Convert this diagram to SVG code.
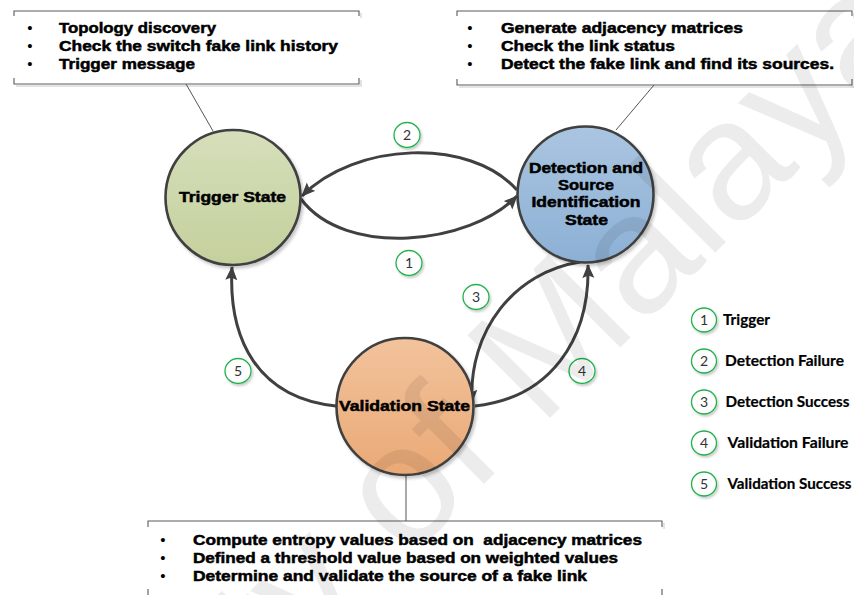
<svg xmlns="http://www.w3.org/2000/svg" width="854" height="595" viewBox="0 0 854 595">
  <style>
    .bx { fill: none; stroke: #5a5a5a; stroke-width: 1.1; }
    .bxs { fill: none; stroke: #dcdcdc; stroke-width: 1.6; }
    .lead { stroke: #555; stroke-width: 1; fill: none; }
    .txt { font-family: "Liberation Sans", Arial, sans-serif; font-weight: bold; font-size: 15px; fill: #000; stroke: #000; stroke-width: 0.5; }
    .bul { font-family: "Liberation Sans", Arial, sans-serif; font-size: 15px; fill: #000; text-anchor: middle; }
    .ntxt { font-family: "Liberation Sans", Arial, sans-serif; font-weight: bold; font-size: 14.5px; fill: #000; stroke: #000; stroke-width: 0.5; }
    .state { stroke: #404040; stroke-width: 2.6; }
    .arc { fill: none; stroke: #404040; stroke-width: 3; marker-end: url(#head); }
    .badge { fill: #fff; stroke: #22b24c; stroke-width: 1.3; }
    .num { font-family: Lato, "Open Sans", sans-serif; font-size: 14px; fill: #333; text-anchor: middle; }
    .leg { font-family: Lato, "Open Sans", sans-serif; font-weight: bold; font-size: 15px; fill: #000; stroke: #000; stroke-width: 0.2; }
    .wm { font-family: "Liberation Sans", Arial, sans-serif; font-size: 170px; fill: #000; fill-opacity: 0.075; }
  </style>
  <defs>
    <linearGradient id="gTrig" x1="0" y1="0" x2="0" y2="1">
      <stop offset="0" stop-color="#d6dfbb"/>
      <stop offset="1" stop-color="#c4d09c"/>
    </linearGradient>
    <linearGradient id="gDet" x1="0" y1="0" x2="0" y2="1">
      <stop offset="0" stop-color="#aac5e0"/>
      <stop offset="1" stop-color="#8cb0d5"/>
    </linearGradient>
    <linearGradient id="gVal" x1="0" y1="0" x2="0" y2="1">
      <stop offset="0" stop-color="#f2c39c"/>
      <stop offset="1" stop-color="#eaa976"/>
    </linearGradient>
    <filter id="shadow" x="-20%" y="-20%" width="150%" height="150%">
      <feDropShadow dx="2" dy="2.5" stdDeviation="1.8" flood-color="#000" flood-opacity="0.22"/>
    </filter>
    <filter id="bshadow" x="-30%" y="-30%" width="170%" height="170%">
      <feDropShadow dx="1.5" dy="2" stdDeviation="1" flood-color="#000" flood-opacity="0.2"/>
    </filter>
    <marker id="head" markerUnits="userSpaceOnUse" markerWidth="16" markerHeight="14" refX="13" refY="6" orient="auto">
      <path d="M0,0 L14,6 L0,12 L2.5,6 z" fill="#404040"/>
    </marker>
  </defs>

  <rect width="854" height="595" fill="#fff"/>

  <!-- callout boxes -->
  <g id="note-trigger">
    <path class="bxs" d="M16,86 H361 V80 M361,13 V18"/>
    <path class="bx" d="M14,16 V11 H359 V16 M14,78 V84 H359 V78"/>
    <text class="bul" x="30" y="33">•</text>
    <text class="bul" x="30" y="51">•</text>
    <text class="bul" x="30" y="69">•</text>
    <text class="txt" x="59" y="33" textLength="157" lengthAdjust="spacingAndGlyphs">Topology discovery</text>
    <text class="txt" x="59" y="51" textLength="279" lengthAdjust="spacingAndGlyphs">Check the switch fake link history</text>
    <text class="txt" x="59" y="69" textLength="136" lengthAdjust="spacingAndGlyphs">Trigger message</text>
  </g>

  <g id="note-detection">
    <path class="bxs" d="M459,87 H854 M854,13 V18"/>
    <path class="bx" d="M457,16 V11 H852 V16 M457,79 V85 H852 V79"/>
    <text class="bul" x="470" y="33">•</text>
    <text class="bul" x="470" y="51">•</text>
    <text class="bul" x="470" y="69">•</text>
    <text class="txt" x="501" y="33" textLength="242" lengthAdjust="spacingAndGlyphs">Generate adjacency matrices</text>
    <text class="txt" x="501" y="51" textLength="174" lengthAdjust="spacingAndGlyphs">Check the link status</text>
    <text class="txt" x="501" y="69" textLength="333" lengthAdjust="spacingAndGlyphs">Detect the fake link and find its sources.</text>
  </g>

  <g id="note-validation">
    <path class="bxs" d="M664,523 V529"/>
    <path class="bx" d="M148,527 V521 H662 V527 M148,589 V597 M662,589 V597"/>
    <text class="bul" x="163" y="545">•</text>
    <text class="bul" x="163" y="563">•</text>
    <text class="bul" x="163" y="581">•</text>
    <text class="txt" x="193" y="545" textLength="449" lengthAdjust="spacingAndGlyphs" xml:space="preserve">Compute entropy values based on  adjacency matrices</text>
    <text class="txt" x="193" y="563" textLength="425" lengthAdjust="spacingAndGlyphs">Defined a threshold value based on weighted values</text>
    <text class="txt" x="193" y="581" textLength="394" lengthAdjust="spacingAndGlyphs">Determine and validate the source of a fake link</text>
  </g>

  <!-- connectors: note leaders and state transitions -->
  <g id="connectors">
    <line class="lead" x1="186" y1="84" x2="213" y2="131"/>
    <line class="lead" x1="654" y1="85" x2="616" y2="130"/>
    <line class="lead" x1="406" y1="474" x2="406" y2="521"/>

    <path id="t1" class="arc" d="M301,199 C345,258 470,245 517,196"/>
    <path id="t2" class="arc" d="M517,190 C470,137 355,142 302,196"/>
    <path id="t3" class="arc" d="M580,262 C515,272 468,330 472,403"/>
    <path id="t4" class="arc" d="M475,406 C550,398 590,340 588,265"/>
    <path id="t5" class="arc" d="M336,406 C258,398 228,340 232,267"/>
  </g>

  <!-- states -->
  <g id="trigger-state">
    <circle class="state" cx="233" cy="197.5" r="67.5" fill="url(#gTrig)" filter="url(#shadow)"/>
    <text class="ntxt" x="179" y="202" textLength="107" lengthAdjust="spacingAndGlyphs">Trigger State</text>
  </g>

  <g id="detection-state">
    <circle class="state" cx="585.5" cy="194.5" r="68" fill="url(#gDet)" filter="url(#shadow)"/>
    <text class="ntxt" x="529" y="172.5" textLength="114" lengthAdjust="spacingAndGlyphs">Detection and</text>
    <text class="ntxt" x="558" y="189.5" textLength="56" lengthAdjust="spacingAndGlyphs">Source</text>
    <text class="ntxt" x="531.5" y="207" textLength="109" lengthAdjust="spacingAndGlyphs">Identification</text>
    <text class="ntxt" x="565" y="224.5" textLength="43" lengthAdjust="spacingAndGlyphs">State</text>
  </g>

  <g id="validation-state">
    <circle class="state" cx="405" cy="406.5" r="68.5" fill="url(#gVal)" filter="url(#shadow)"/>
    <text class="ntxt" x="339" y="411" textLength="131" lengthAdjust="spacingAndGlyphs">Validation State</text>
  </g>

  <!-- transition number badges -->
  <g id="badges">
    <g filter="url(#bshadow)">
      <ellipse class="badge" cx="407" cy="135" rx="13" ry="12.5"/>
      <ellipse class="badge" cx="409" cy="263" rx="13" ry="12.5"/>
      <ellipse class="badge" cx="476" cy="297" rx="13" ry="12.5"/>
      <ellipse class="badge" cx="582" cy="371" rx="13" ry="12.5"/>
      <ellipse class="badge" cx="238" cy="371" rx="13" ry="12.5"/>
    </g>
    <text class="num" x="407" y="140">2</text>
    <text class="num" x="409" y="268">1</text>
    <text class="num" x="476" y="302">3</text>
    <text class="num" x="582" y="376">4</text>
    <text class="num" x="238" y="376">5</text>
  </g>

  <!-- legend -->
  <g id="legend">
    <g filter="url(#bshadow)">
      <ellipse class="badge" cx="704" cy="320" rx="12.5" ry="12"/>
      <ellipse class="badge" cx="704" cy="361" rx="12.5" ry="12"/>
      <ellipse class="badge" cx="704" cy="402" rx="12.5" ry="12"/>
      <ellipse class="badge" cx="704" cy="443" rx="12.5" ry="12"/>
      <ellipse class="badge" cx="704" cy="484" rx="12.5" ry="12"/>
    </g>
    <text class="num" x="704" y="325">1</text>
    <text class="num" x="704" y="366">2</text>
    <text class="num" x="704" y="407">3</text>
    <text class="num" x="704" y="448">4</text>
    <text class="num" x="704" y="489">5</text>
    <text class="leg" x="723" y="324.5" textLength="47" lengthAdjust="spacingAndGlyphs">Trigger</text>
    <text class="leg" x="725" y="366" textLength="119" lengthAdjust="spacingAndGlyphs">Detection Failure</text>
    <text class="leg" x="725.5" y="407" textLength="124" lengthAdjust="spacingAndGlyphs">Detection Success</text>
    <text class="leg" x="727.5" y="448" textLength="121" lengthAdjust="spacingAndGlyphs">Validation Failure</text>
    <text class="leg" x="727.5" y="488.5" textLength="124" lengthAdjust="spacingAndGlyphs">Validation Success</text>
  </g>

  <!-- repository watermark -->
  <text class="wm" x="-982" y="0" transform="translate(540 428) rotate(-45)">University of Malaya</text>
</svg>
